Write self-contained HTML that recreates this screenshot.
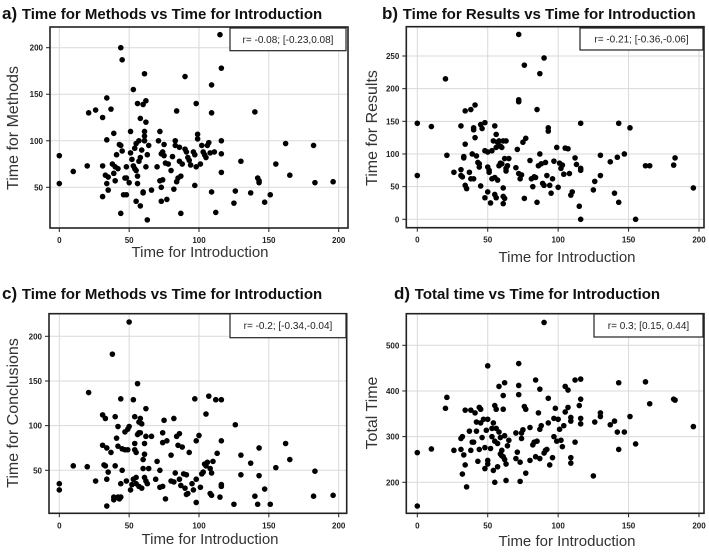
<!DOCTYPE html>
<html><head><meta charset="utf-8"><style>
html,body{margin:0;padding:0;background:#fff;}
svg{display:block;font-family:"Liberation Sans",sans-serif;}
</style></head><body>
<svg id="chart" width="709" height="553" viewBox="0 0 709 553"></svg>
<script>
// ---- data ----
const introTicks = [0, 50, 100, 150, 200];
const methodsTicks = [50, 100, 150, 200];
const resultsTicks = [0, 50, 100, 150, 200, 250];
const conclusionsTicks = [50, 100, 150, 200];
const totalTicks = [200, 300, 400, 500];
const methodsPoints = [[0,84],[0,54],[10,67],[20,73],[21,130],[26,133],[31,125],[31,73],[31,40],[33,63],[34,54],[34,101],[34,146],[35,47],[35,61],[37,134],[38,75],[39,65],[39,108],[40,57],[40,72],[41,85],[42,70],[43,96],[44,200],[44,22],[44,95],[45,187],[45,89],[46,42],[47,60],[48,42],[48,72],[48,60],[50,55],[51,87],[51,110],[52,80],[53,155],[53,73],[54,92],[54,70],[55,97],[55,68],[55,35],[56,62],[56,140],[56,54],[57,78],[57,100],[58,82],[58,30],[58,124],[59,90],[60,44],[60,45],[60,139],[61,172],[61,110],[61,100],[61,105],[62,120],[62,143],[62,72],[63,15],[63,85],[64,95],[66,47],[70,72],[71,100],[72,57],[72,110],[73,86],[73,50],[73,35],[74,88],[74,58],[75,96],[75,84],[76,76],[77,37],[78,75],[80,68],[81,83],[82,48],[83,95],[83,100],[84,56],[84,132],[85,60],[86,93],[86,78],[87,22],[87,62],[88,75],[90,169],[90,91],[91,88],[92,82],[93,79],[94,74],[96,88],[97,52],[97,85],[98,140],[98,72],[99,107],[99,102],[101,75],[102,95],[103,88],[104,85],[105,82],[106,95],[107,98],[108,87],[109,160],[109,130],[109,45],[111,88],[112,23],[115,214],[116,178],[116,86],[116,100],[116,66],[125,33],[126,46],[130,78],[137,44],[140,131],[142,60],[143,57],[143,55],[147,34],[151,42],[155,75],[162,97],[165,63],[182,95],[183,55],[196,56]];
const resultsPoints = [[0,147],[0,67],[10,142],[20,215],[21,98],[26,72],[31,143],[31,76],[31,67],[32,65],[33,96],[33,94],[34,166],[34,115],[34,52],[35,47],[37,72],[38,168],[38,62],[39,100],[40,137],[40,140],[40,62],[41,175],[41,125],[42,97],[43,87],[44,85],[44,80],[45,145],[45,51],[46,139],[48,148],[48,105],[48,33],[50,42],[50,103],[50,80],[51,72],[51,75],[52,25],[53,62],[53,105],[54,120],[55,143],[55,38],[55,64],[56,130],[56,33],[56,110],[57,118],[57,60],[58,82],[58,120],[59,86],[59,112],[60,85],[60,110],[61,120],[61,35],[61,24],[61,48],[62,32],[62,93],[63,120],[63,78],[63,74],[64,82],[65,93],[70,79],[71,107],[72,183],[72,180],[72,283],[72,70],[73,62],[74,68],[75,118],[76,236],[76,32],[77,124],[80,90],[81,62],[82,50],[83,65],[84,64],[85,168],[85,26],[86,82],[87,100],[87,223],[88,85],[89,55],[90,247],[90,52],[91,87],[92,67],[93,135],[93,140],[94,52],[95,40],[96,62],[97,89],[99,110],[100,49],[101,86],[102,78],[103,83],[104,69],[105,109],[107,108],[108,70],[109,37],[110,42],[112,94],[113,84],[115,20],[116,147],[116,78],[116,75],[116,0],[125,45],[126,58],[130,98],[130,67],[137,88],[140,40],[142,95],[143,147],[143,26],[147,100],[151,140],[155,0],[162,82],[165,82],[182,83],[183,94],[196,48]];
const conclusionsPoints = [[0,35],[0,28],[10,55],[20,54],[21,137],[26,38],[31,112],[31,78],[32,56],[33,108],[33,55],[34,75],[34,10],[34,40],[35,48],[37,70],[38,180],[39,20],[39,17],[40,110],[40,55],[41,86],[42,99],[42,77],[42,20],[43,18],[44,20],[44,35],[44,130],[45,74],[45,50],[47,93],[47,73],[48,38],[49,96],[49,73],[50,216],[50,99],[51,28],[52,34],[53,129],[53,40],[54,110],[54,80],[54,73],[55,70],[55,42],[55,35],[56,147],[56,90],[57,104],[57,92],[57,32],[58,108],[58,92],[59,102],[59,30],[60,52],[60,62],[61,80],[61,68],[61,42],[62,38],[62,88],[62,119],[63,35],[64,52],[66,88],[69,40],[70,60],[72,50],[72,31],[74,92],[74,81],[74,32],[75,106],[76,18],[77,83],[80,67],[80,38],[82,108],[82,37],[83,47],[84,88],[85,78],[86,91],[86,40],[87,33],[88,76],[89,46],[90,30],[91,45],[91,23],[92,24],[93,70],[95,35],[96,28],[97,130],[98,83],[98,14],[98,40],[100,89],[101,31],[102,46],[103,48],[104,57],[105,113],[105,55],[106,59],[107,133],[108,24],[108,52],[109,47],[109,22],[110,60],[112,129],[113,69],[115,20],[116,129],[116,83],[116,34],[116,32],[125,12],[126,101],[130,67],[130,45],[137,58],[140,21],[142,12],[143,75],[143,44],[147,29],[151,12],[155,53],[162,80],[165,62],[182,21],[183,49],[196,22]];
const totalPoints = [[0,265],[0,148],[10,273],[20,362],[21,386],[26,270],[31,272],[31,296],[32,300],[32,218],[33,260],[34,358],[34,238],[35,190],[37,312],[38,358],[38,270],[39,288],[40,288],[41,352],[42,312],[42,332],[43,246],[44,364],[44,272],[45,330],[45,360],[46,298],[47,338],[48,276],[48,230],[49,314],[50,455],[50,338],[50,248],[50,240],[52,274],[53,318],[53,300],[54,330],[54,226],[55,368],[55,200],[55,290],[56,360],[56,318],[57,285],[57,234],[58,410],[58,310],[59,298],[59,262],[60,270],[60,258],[61,390],[61,360],[61,256],[62,418],[62,302],[62,250],[63,204],[63,240],[64,280],[65,292],[70,308],[70,252],[71,266],[72,460],[72,412],[72,392],[73,202],[73,244],[74,308],[74,296],[75,315],[76,366],[77,360],[77,220],[80,320],[80,248],[82,282],[83,288],[84,424],[84,256],[85,290],[86,352],[87,316],[87,404],[87,252],[88,324],[90,550],[90,264],[91,270],[92,272],[93,384],[93,330],[94,238],[96,254],[97,340],[97,300],[98,362],[99,290],[100,338],[101,316],[102,292],[103,278],[104,324],[105,354],[105,410],[107,402],[107,364],[109,342],[109,334],[109,254],[109,242],[112,424],[112,288],[115,368],[116,426],[116,382],[116,340],[116,328],[125,214],[126,332],[130,344],[130,352],[137,326],[140,334],[142,310],[143,418],[143,272],[147,310],[151,344],[155,284],[162,420],[165,372],[182,382],[183,380],[196,322]];
const titles = ["Time for Methods vs Time for Introduction","Time for Results vs Time for Introduction","Time for Methods vs Time for Introduction","Total time vs Time for Introduction"];
const yTitles = ["Time for Methods","Time for Results","Time for Conclusions","Total Time"];
const rLabels = ["r= -0.08; [-0.23,0.08]","r= -0.21; [-0.36,-0.06]","r= -0.2; [-0.34,-0.04]","r= 0.3; [0.15, 0.44]"];

const NS = "http://www.w3.org/2000/svg";
const svg = document.getElementById('chart');
function mk(tag, attrs, parent){const e=document.createElementNS(NS,tag);for(const k in attrs)e.setAttribute(k,attrs[k]);(parent||svg).appendChild(e);return e;}

const panels = [
 {key:'a',pts:methodsPoints,yt:methodsTicks,box:[50,27,348,228],x0:59.3,x200:338.7,yA:[200,47.7],yB:[50,187.3],title:[2,19],yl:[13,128],xl:[200,257],rb:[230,28,346,50.7]},
 {key:'b',pts:resultsPoints,yt:resultsTicks,box:[406.3,26.7,704,227.7],x0:417.3,x200:699,yA:[250,56],yB:[0,219.3],title:[382,19],yl:[372,128],xl:[567,262],rb:[580,28,703,50]},
 {key:'c',pts:conclusionsPoints,yt:conclusionsTicks,box:[49,313.7,346.7,513.3],x0:59.3,x200:338.7,yA:[200,336.3],yB:[50,470.3],title:[2,299],yl:[13,413],xl:[210,544],rb:[230,313.7,346,337.7]},
 {key:'d',pts:totalPoints,yt:totalTicks,box:[406.3,313.7,704,513.3],x0:417.3,x200:699,yA:[500,345.3],yB:[200,482.3],title:[394,299],yl:[372,413],xl:[567,546],rb:[594,314,703,337]}
];

panels.forEach((p,i)=>{
  const g = mk('g',{});
  
  
  const xs = v => p.x0 + (p.x200-p.x0)*v/200;
  const ys = v => p.yA[1] + (p.yB[1]-p.yA[1])*(v-p.yA[0])/(p.yB[0]-p.yA[0]);
  const [bl,bt,br,bb] = p.box;
  const t = mk('text',{x:p.title[0],y:p.title[1],'font-size':15,'font-weight':'bold',fill:'#111'},g);
  
  
  const ts = mk('tspan',{'font-size':17},t); ts.textContent = p.key+') ';
  const ts2 = mk('tspan',{},t); ts2.textContent = titles[i];
  introTicks.forEach(v=>{
    const l = mk('line',{x1:xs(v),x2:xs(v),y1:bt,y2:bb,stroke:'#d9d9d9','stroke-width':1},g);
    
    
  });
  p.yt.forEach(v=>{
    const l = mk('line',{x1:bl,x2:br,y1:ys(v),y2:ys(v),stroke:'#d9d9d9','stroke-width':1},g);
    
    
  });
  const rect = mk('rect',{x:bl,y:bt,width:br-bl,height:bb-bt,fill:'none',stroke:'#222','stroke-width':1.6},g);
  
  
  introTicks.forEach(v=>{
    const tk = mk('line',{x1:xs(v),x2:xs(v),y1:bb,y2:bb+4,stroke:'#222','stroke-width':1},g);
    
    
    const tl = mk('text',{x:xs(v),y:bb+15,'font-size':8,'font-weight':'bold','text-anchor':'middle',fill:'#222'},g);
    
    
    tl.textContent = v;
  });
  p.yt.forEach(v=>{
    const tk = mk('line',{x1:bl-4,x2:bl,y1:ys(v),y2:ys(v),stroke:'#222','stroke-width':1},g);
    
    
    const tl = mk('text',{x:bl-7,y:ys(v)+3,'font-size':8,'font-weight':'bold','text-anchor':'end',fill:'#222'},g);
    
    
    tl.textContent = v;
  });
  const xt = mk('text',{x:p.xl[0],y:p.xl[1],'font-size':15,'text-anchor':'middle',fill:'#333'},g);
  
  
  xt.textContent = 'Time for Introduction';
  const yt = mk('text',{x:0,y:0,'font-size':16,'text-anchor':'middle',fill:'#333',transform:`translate(${p.yl[0]+5},${p.yl[1]}) rotate(-90)`},g);
  
  
  yt.textContent = yTitles[i];
  p.pts.forEach(d=>{
    const c = mk('circle',{cx:xs(d[0]),cy:ys(d[1]),r:2.8,fill:'#000'},g);
    
    
  });
  const [rl,rt,rr,rb2] = p.rb;
  const rbx = mk('rect',{x:rl,y:rt,width:rr-rl,height:rb2-rt,fill:'#fff',stroke:'#222','stroke-width':1.2},g);
  
  
  const rtx = mk('text',{x:(rl+rr)/2,y:(rt+rb2)/2+3.5,'font-size':10,'text-anchor':'middle',fill:'#222'},g);
  
  
  rtx.textContent = rLabels[i];
});
</script>
</body></html>
